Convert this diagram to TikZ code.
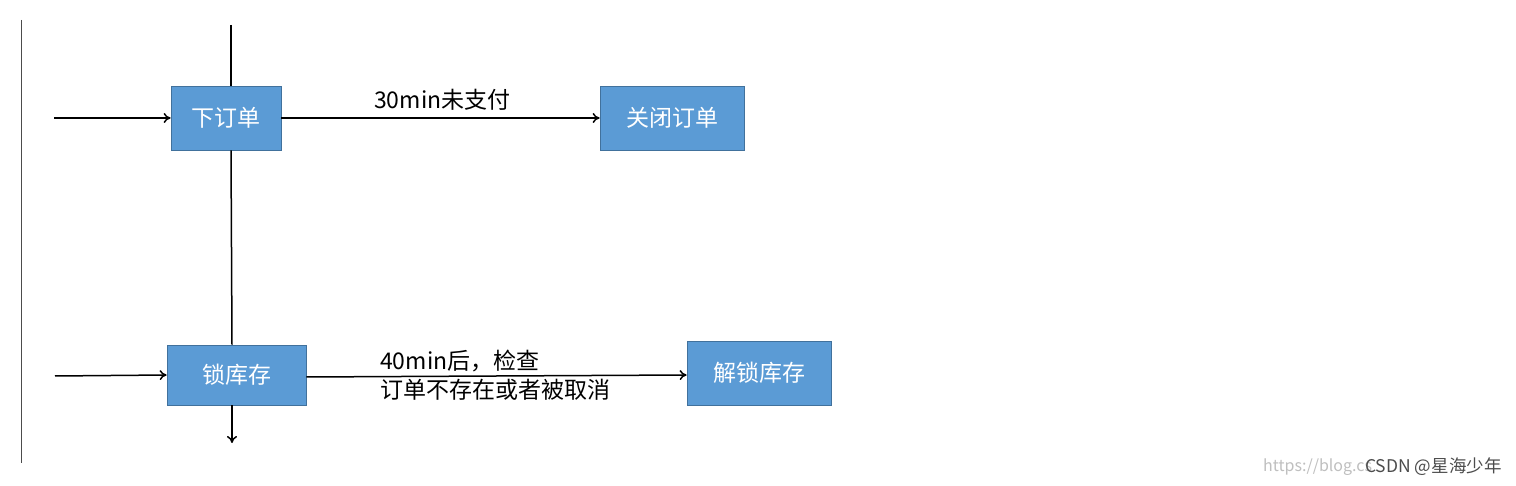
\documentclass[tikz,border=0pt]{standalone}
\usepackage{fontspec}
\setmainfont{Noto Sans CJK SC}
\usetikzlibrary{arrows.meta}
\definecolor{boxfill}{HTML}{5B9BD5}
\definecolor{boxline}{HTML}{41719C}
\tikzset{
  stepbox/.style={draw=boxline, line width=0.8pt, fill=boxfill, text=white, font=\fontsize{23}{26}\selectfont, inner sep=0pt},
  conn/.style={draw=black, line width=1.5pt, -{To[length=7pt,width=10pt]}},
  plain/.style={draw=black, line width=1.5pt},
  lbl/.style={font=\fontsize{23}{29}\selectfont, inner sep=0pt}
}
\begin{document}
\begin{tikzpicture}[x=1pt,y=-1pt]
\useasboundingbox (0,0) rectangle (1516,486);
\fill[white] (0,0) rectangle (1516,486);
% left rule
\draw[line width=0.8pt, black!70] (21,20) -- (21,463);
% boxes
\node[stepbox, minimum width=110pt, minimum height=64pt] (order) at (226,118) {下订单};
\node[stepbox, minimum width=144pt, minimum height=64pt] (close) at (672,118) {关闭订单};
\node[stepbox, minimum width=139pt, minimum height=60pt] (lock) at (236.5,375) {锁库存};
\node[stepbox, minimum width=144pt, minimum height=64pt] (unlock) at (759,373) {解锁库存};
% coordinates
\coordinate (intop) at (54,118);
\coordinate (inbot) at (55,376);
\coordinate (vtop) at (231,25);
\coordinate (vout) at (232,443);
% connectors
\draw[conn] (intop) -- (order.west);
\draw[conn] (inbot) -- (lock.west);
\draw[conn] (order.east) -- (close.west);
\draw[conn] (lock.east |- 0,377) -- (unlock.west |- 0,375);
\draw[plain] (vtop) -- (vtop |- order.north);
\draw[plain] (order.south -| 231,0) -- (lock.north -| 232,0);
\draw[conn] (lock.south -| 232,0) -- (vout);
% labels
\node[lbl, anchor=west] (l1) at (374,100) {30min未支付};
\node[lbl, anchor=west, align=left] (l2) at (380,375) {40min后，检查\\订单不存在或者被取消};
% watermark
\node[font=\fontsize{16}{19}\selectfont, text=black!25, anchor=west, inner sep=0pt] (wm1) at (1263,467) {https://blog.cs};
\node[font=\fontsize{17.5}{20}\selectfont, text=black!70, anchor=west, inner sep=0pt] (wm2) at (1365,467) {CSDN @星海少年};
\end{tikzpicture}
\end{document}
